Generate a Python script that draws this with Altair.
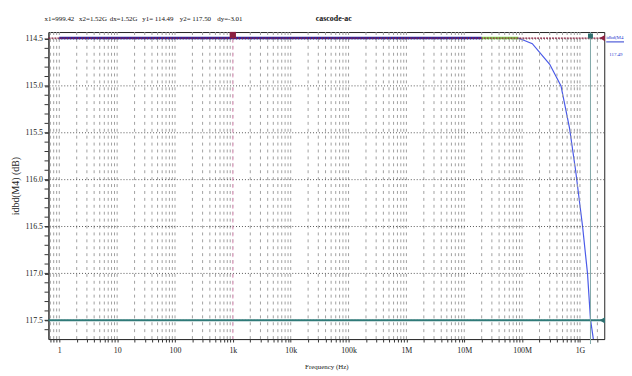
import altair as alt
import pandas as pd

# ---- data ----
freq = [1, 10, 100, 1e3, 1e4, 1e5, 1e6, 1e7, 2e7, 5e7, 8.6e7, 1.5e8, 3.0e8,
        4.7e8, 6.6e8, 8.4e8, 1.11e9, 1.35e9, 1.52e9, 1.75e9]
mag = [114.49, 114.49, 114.49, 114.49, 114.49, 114.49, 114.49, 114.49, 114.49,
       114.49, 114.49, 114.55, 114.77, 115.0, 115.45, 115.9, 116.5, 117.0,
       117.49, 117.75]
flat_freq = [1, 1e3, 1e6, 2e7]
flat_mag = [114.49, 114.49, 114.49, 114.49]
green_freq = [2e7, 5e7, 8.6e7]
green_mag = [114.49, 114.49, 114.49]

x1, x2 = 999.42, 1.52e9
y1, y2 = 114.49, 117.50

decade_vals = [1, 10, 100, 1e3, 1e4, 1e5, 1e6, 1e7, 1e8, 1e9]
decade_labels = ["1", "10", "100", "1k", "10k", "100k", "1M", "10M", "100M", "1G"]
minor_vals = [0.7, 0.8, 0.9] + [m * 10 ** k for k in range(0, 10) for m in range(1, 10) if m * 10 ** k <= 2.6e9]
y_minor = [round(114.5 + 0.1 * i, 1) for i in range(32)]
y_major = [114.5, 115.0, 115.5, 116.0, 116.5, 117.0, 117.5]

header = ["x1=999.42", "x2=1.52G", "dx=1.52G", "y1= 114.49", "y2= 117.50", "dy=-3.01"]
header_x = [-4, 31, 62, 95, 133, 171]

W, H = 563, 311
XD = [0.65, 2.63e9]
YD = [114.426, 117.70]
FONT = "Liberation Serif"

xs = alt.Scale(type="log", domain=XD, nice=False)
ys = alt.Scale(domain=YD, reverse=True, nice=False, zero=False)

label_expr = " : ".join(
    f"datum.value == {v:g} ? '{l}'" for v, l in zip(decade_vals, decade_labels)
) + " : ''"

x_axis = alt.Axis(
    values=minor_vals, labelExpr=label_expr, title="Frequency (Hz)",
    grid=False, tickSize=3, labelPadding=5, labelFlush=False,
    titleFont=FONT, titleFontSize=7, titleFontWeight="normal", titlePadding=8,
    labelOverlap=False)
y_axis = alt.Axis(
    values=y_major, format=".1f",
    title="idbd(M4) (dB)", grid=False, tickSize=4, labelPadding=2,
    titleFont=FONT, titleFontSize=10, titleFontWeight="normal", titlePadding=5,
    labelOverlap=False)

df = pd.DataFrame({"f": freq, "m": mag})

curve = alt.Chart(df).mark_line(color="#4a5ae8", strokeWidth=1.2, clip=True).encode(
    x=alt.X("f:Q", scale=xs, axis=x_axis),
    y=alt.Y("m:Q", scale=ys, axis=y_axis),
)
vgrid = alt.Chart(pd.DataFrame({"f": minor_vals})).mark_rule(
    color="#a0a0a0", strokeDash=[3, 4], strokeWidth=1).encode(
    x=alt.X("f:Q", scale=xs))
hgrid = alt.Chart(pd.DataFrame({"m": y_major})).mark_rule(
    color="#555555", strokeDash=[1, 2], strokeWidth=1).encode(
    y=alt.Y("m:Q", scale=ys))
yminor = alt.Chart(pd.DataFrame({"m": y_minor})).mark_rule(
    color="#333333", strokeWidth=1).encode(
    y=alt.Y("m:Q", scale=ys), x=alt.value(-4), x2=alt.value(0))
flat = alt.Chart(pd.DataFrame({"f": flat_freq, "m": flat_mag})).mark_line(
    color="#2424a8", strokeWidth=2.5).encode(x=alt.X("f:Q", scale=xs), y=alt.Y("m:Q", scale=ys))
green = alt.Chart(pd.DataFrame({"f": green_freq, "m": green_mag})).mark_line(
    color="#80e050", strokeWidth=2.5).encode(x=alt.X("f:Q", scale=xs), y=alt.Y("m:Q", scale=ys))

cur_df = pd.DataFrame({"x": [x1], "x2": [x2], "y": [y1], "y2": [y2]})
c1 = alt.Chart(cur_df).mark_rule(color="#e79ac2", strokeDash=[4, 3], strokeWidth=1).encode(
    x=alt.X("x:Q", scale=xs))
c2 = alt.Chart(cur_df).mark_rule(color="#7fa7a7", strokeWidth=1).encode(
    x=alt.X("x2:Q", scale=xs), y=alt.value(0), y2=alt.value(316))
h1 = alt.Chart(cur_df).mark_rule(color="#8b2040", strokeWidth=1.3, strokeDash=[2, 1]).encode(
    y=alt.Y("y:Q", scale=ys))
h2 = alt.Chart(cur_df).mark_rule(color="#2f7a78", strokeWidth=2).encode(
    y=alt.Y("y2:Q", scale=ys))
m1 = alt.Chart(cur_df).mark_point(shape="square", filled=True, size=40, color="#8b2040", opacity=1).encode(
    x=alt.X("x:Q", scale=xs), y=alt.value(3))
m2 = alt.Chart(cur_df).mark_point(shape="square", filled=True, size=25, color="#2f6f6f", opacity=1).encode(
    x=alt.X("x2:Q", scale=xs), y=alt.value(4))
a1 = alt.Chart(cur_df).mark_point(shape="triangle-left", filled=True, size=40, color="#8b2040", opacity=1).encode(
    x=alt.value(W - 2), y=alt.Y("y:Q", scale=ys))
a2 = alt.Chart(cur_df).mark_point(shape="triangle-left", filled=True, size=40, color="#2f6f6f", opacity=1).encode(
    x=alt.value(W - 2), y=alt.Y("y2:Q", scale=ys))

hdr = alt.Chart(pd.DataFrame({"t": header, "px": header_x})).mark_text(
    font=FONT, fontSize=7, align="left", baseline="middle", color="#111").encode(
    text="t:N", x=alt.X("px:Q", scale=None), y=alt.value(-13))
title = alt.Chart(pd.DataFrame({"t": ["cascode-ac"]})).mark_text(
    font=FONT, fontSize=8, fontWeight="bold", align="center", baseline="middle", color="#111").encode(
    text="t:N", x=alt.value(289), y=alt.value(-13))
leg1 = alt.Chart(pd.DataFrame({"t": ["idbd(M4"]})).mark_text(
    font=FONT, fontSize=5, align="left", baseline="middle", color="#2a3ad0").encode(
    text="t:N", x=alt.value(565), y=alt.value(5))
legline = alt.Chart(pd.DataFrame({"t": [1]})).mark_rule(color="#2a3ad0", strokeWidth=1).encode(
    x=alt.value(565), x2=alt.value(583), y=alt.value(10))
leg2 = alt.Chart(pd.DataFrame({"t": ["117.49"]})).mark_text(
    font=FONT, fontSize=5, align="left", baseline="middle", color="#2a3ad0").encode(
    text="t:N", x=alt.value(568), y=alt.value(22))

chart = alt.layer(
    curve, vgrid, hgrid, yminor, flat, green, h1, h2, c1, c2, m1, m2, a1, a2,
    hdr, title, leg1, legline, leg2
).properties(
    width=W, height=H,
    background="white",
    autosize=alt.AutoSizeParams(type="none"),
    padding={"left": 41, "top": 22, "right": 20, "bottom": 30},
).configure_view(stroke="#222", strokeWidth=1).configure_axis(
    domainColor="#333", tickColor="#333", labelFont=FONT, labelFontSize=8,
    labelColor="#222", titleColor="#222", labelOverlap=False
)

chart.save("out.html", embed_options={"renderer": "svg", "actions": False})
